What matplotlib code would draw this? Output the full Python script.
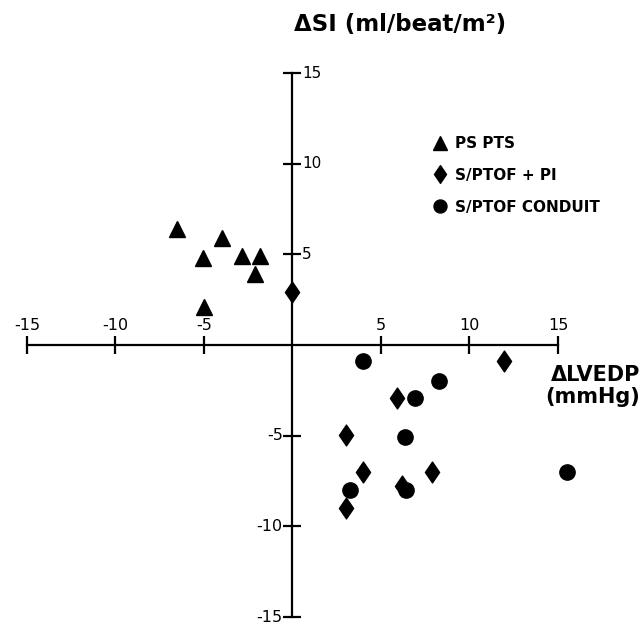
import numpy as np
import matplotlib
matplotlib.use('Agg')
import matplotlib.pyplot as plt
from matplotlib.path import Path

# data
ps_x = [-6.5, -3.96, -5.05, -2.86, -1.84, -2.14, -5.0]
ps_y = [6.4, 5.9, 4.8, 4.9, 4.9, 3.9, 2.1]

pi_x = [0.0, 11.95, 5.9, 3.0, 4.0, 7.9, 6.2, 3.0]
pi_y = [2.9, -0.9, -2.9, -4.95, -7.0, -7.0, -7.8, -9.0]

cond_x = [3.98, 8.3, 6.95, 6.36, 15.5, 3.24, 6.4]
cond_y = [-0.9, -2.0, -2.9, -5.05, -7.0, -8.0, -8.0]

ticks = [-15, -10, -5, 5, 10, 15]
labels = ['PS PTS', 'S/PTOF + PI', 'S/PTOF CONDUIT']

plt.rcParams['font.family'] = ['DejaVu Sans']

fig = plt.figure(figsize=(6.44, 6.24), dpi=100)
ax = fig.add_axes([0, 0, 1, 1])
ax.set_xlim(-16.525, 19.86)
ax.set_ylim(-15.386, 19.03)

# axes crossing at origin
for s in ['top', 'right']:
    ax.spines[s].set_visible(False)
ax.spines['left'].set_position(('data', 0))
ax.spines['bottom'].set_position(('data', 0))
ax.spines['left'].set_bounds(-15, 15)
ax.spines['bottom'].set_bounds(-15, 15)
ax.spines['left'].set_linewidth(1.6)
ax.spines['bottom'].set_linewidth(1.6)
ax.set_xticks(ticks)
ax.set_yticks(ticks)
ax.tick_params(direction='inout', length=13, width=1.6, labelbottom=False, labelleft=False)
ax.patch.set_alpha(0.0)

# tick labels drawn by hand (x above the axis, y right for +, left for -)
for t in ticks:
    ax.text(t, 1.05, str(t), ha='center', va='center', fontsize=11.5)
    if t > 0:
        ax.text(0.55, t, str(t), ha='left', va='center', fontsize=11)
    else:
        ax.text(-0.55, t, str(t), ha='right', va='center', fontsize=11.5)

diamond = Path([(0, 1), (0.68, 0), (0, -1), (-0.68, 0), (0, 1)],
               [Path.MOVETO, Path.LINETO, Path.LINETO, Path.LINETO, Path.CLOSEPOLY])

ax.plot(ps_x, ps_y, ls='none', marker='^', ms=12, color='black', label=labels[0], clip_on=False)
ax.plot(pi_x, pi_y, ls='none', marker=diamond, ms=15, color='black', label=labels[1], clip_on=False, zorder=3)
ax.plot(cond_x, cond_y, ls='none', marker='o', ms=11, color='black', label=labels[2], clip_on=False)

ax.legend(loc='upper left', bbox_to_anchor=(434 / 644, 1 - 136 / 624), frameon=False,
          prop={'weight': 'bold', 'size': 11}, handlelength=0.8, handletextpad=0.6,
          labelspacing=1.1, markerscale=0.85, borderaxespad=0, borderpad=0)

ax.text(400 / 644, 1 - 24 / 624, 'ΔSI (ml/beat/m²)', transform=ax.transAxes,
        ha='center', va='center', fontsize=16.5, weight='bold')
ax.text(640 / 644, 1 - 386 / 624, 'ΔLVEDP\n(mmHg)', transform=ax.transAxes,
        ha='right', va='center', fontsize=15, weight='bold', linespacing=1.15,
        multialignment='right')

plt.savefig('out.png', dpi=100)
